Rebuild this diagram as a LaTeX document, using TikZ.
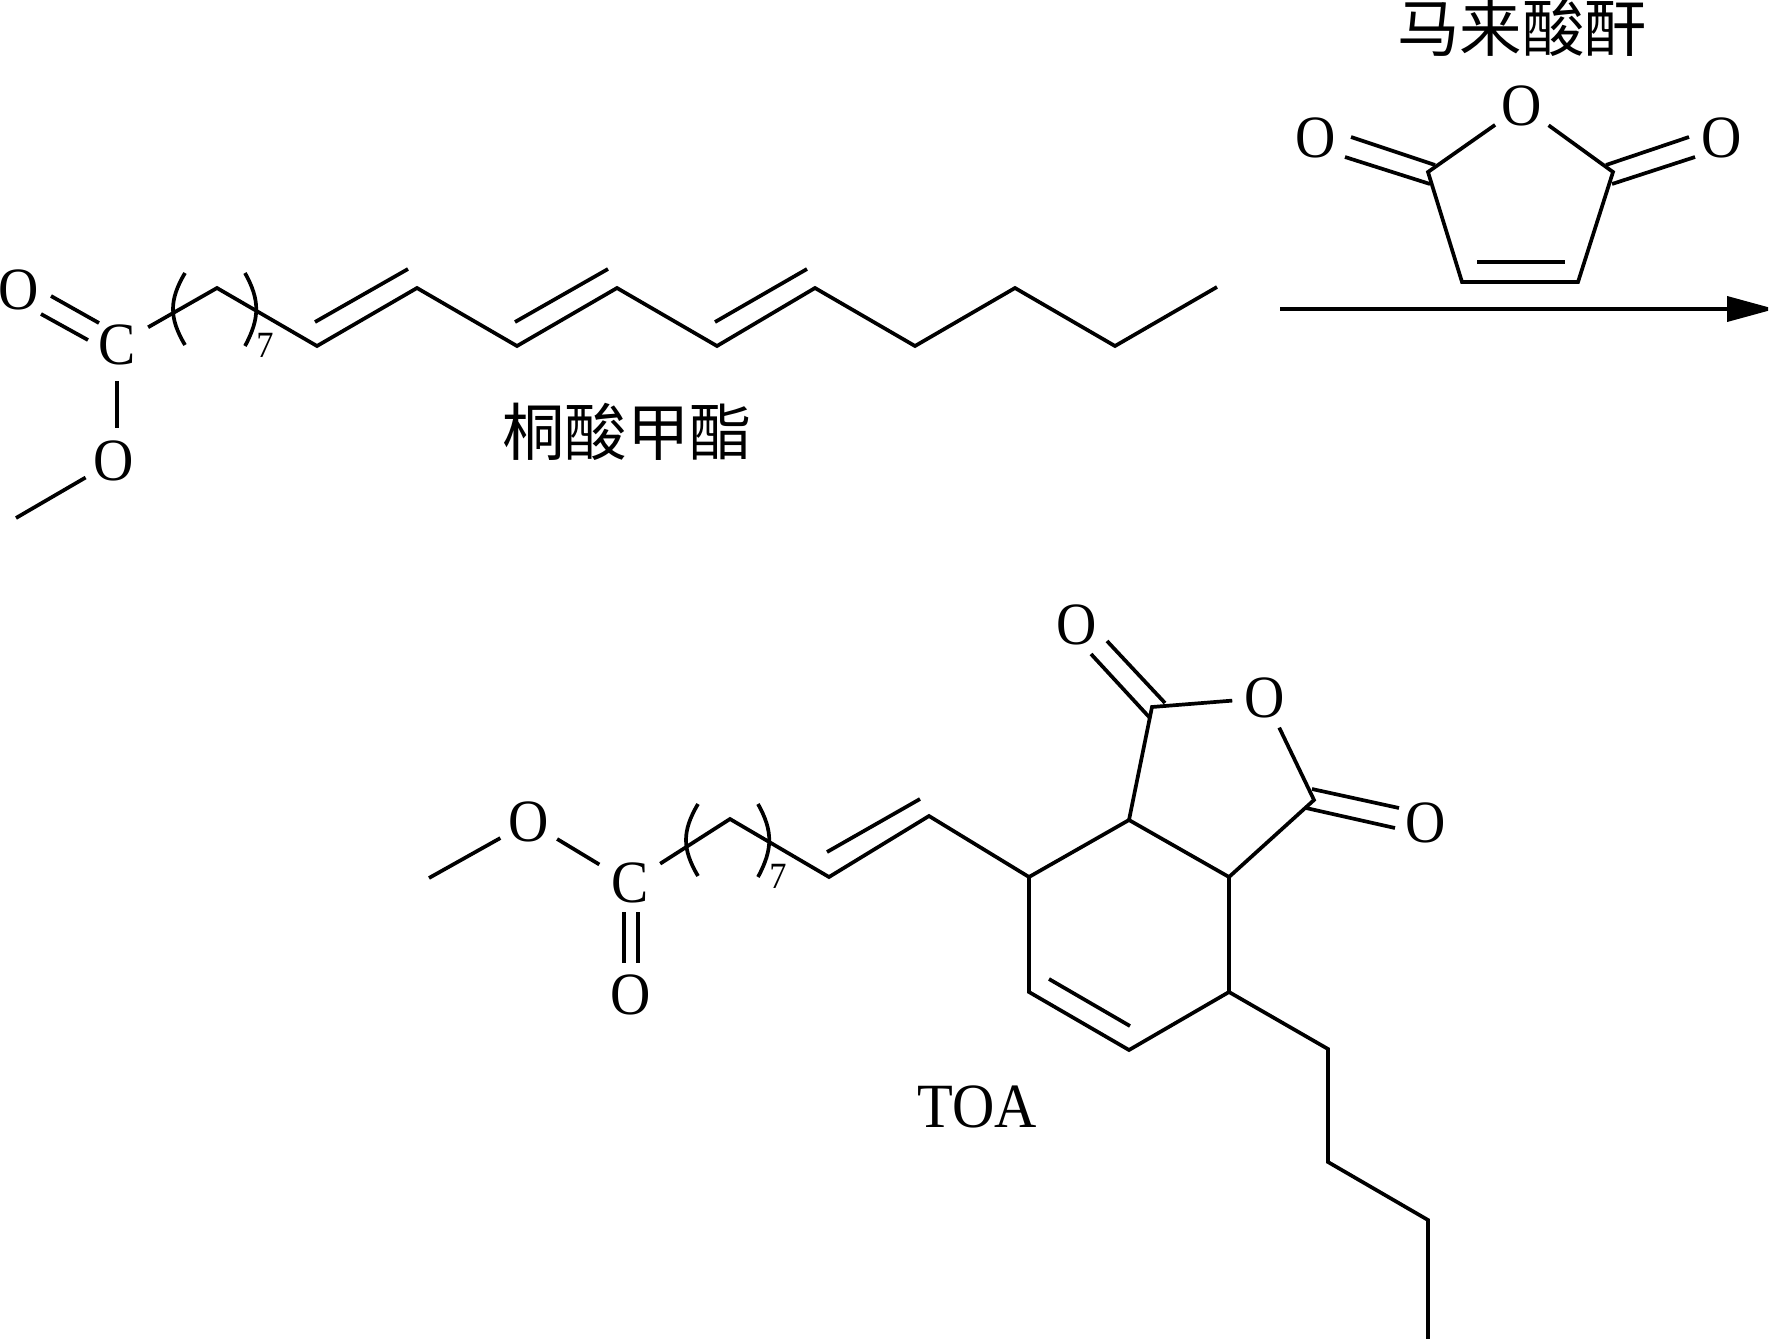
\documentclass[tikz,border=0pt]{standalone}
\usepackage{fontspec}
\setmainfont[FakeStretch=0.93]{Liberation Serif}
\newfontfamily\cjk{Noto Sans CJK SC}
\usetikzlibrary{arrows.meta}

\begin{document}
\begin{tikzpicture}[x=0.5pt, y=-0.5pt, line width=1.85pt, miter limit=3,
        atom/.style={circle, inner sep=0pt, minimum size=31pt, font=\fontsize{30}{30}\selectfont},
        carbon/.style={atom, minimum size=34pt},
        label/.style={inner sep=0pt, font=\fontsize{31.5}{32}\selectfont},
        cnlabel/.style={inner sep=0pt, font=\fontsize{31.2}{32}\selectfont\cjk},
        count/.style={inner sep=0pt, font=\fontsize{18.5}{19}\selectfont},
        rxn/.style={line width=1.85pt, -{Triangle[length=24pt, width=12.5pt]}}]
    \useasboundingbox (0,0) rectangle (1773,1339);

    \node[atom] (o1) at (19,290) {O};
    \node[carbon] (c1) at (117,345) {C};
    \node[atom] (o2) at (114,461) {O};
    \coordinate (me1) at (16,518);
    \coordinate (v1) at (217,288);
    \coordinate (v2) at (317,346);
    \coordinate (v3) at (417,288);
    \coordinate (v4) at (517,346);
    \coordinate (v5) at (617,288);
    \coordinate (v6) at (717,346);
    \coordinate (v7) at (815,288);
    \coordinate (v8) at (915,346);
    \coordinate (v9) at (1015,288);
    \coordinate (v10) at (1115,346);
    \coordinate (v11) at (1217,287);
    \coordinate (d1) at (315,322);
    \coordinate (d2) at (408,269);
    \coordinate (d3) at (515,322);
    \coordinate (d4) at (608,269);
    \coordinate (d5) at (715,322);
    \coordinate (d6) at (807,269);
    \coordinate (e1) at (51,296);
    \coordinate (e2) at (99,323);
    \coordinate (e3) at (41,314);
    \coordinate (e4) at (88,340);
    \node[cnlabel] (tung) at (627,432) {桐酸甲酯};
    \draw (e1) -- (e2);
    \draw (e3) -- (e4);
    \draw (c1.south) -- (c1.south |- o2.north);
    \draw (o2) -- (me1);
    \draw (c1) -- (v1) -- (v2) -- (v3) -- (v4) -- (v5) -- (v6) -- (v7) -- (v8) -- (v9) -- (v10) -- (v11);
    \draw (d1) -- (d2);
    \draw (d3) -- (d4);
    \draw (d5) -- (d6);

    \node[cnlabel] (maleic) at (1522,28) {马来酸酐};
    \node[atom] (o3) at (1522,106) {O};
    \node[atom] (o4) at (1316,138) {O};
    \node[atom] (o5) at (1722,138) {O};
    \coordinate (m1) at (1428,172);
    \coordinate (m2) at (1613,172);
    \coordinate (m3) at (1462,282);
    \coordinate (m4) at (1578,282);
    \coordinate (m5) at (1477,262);
    \coordinate (m6) at (1565,262);
    \coordinate (f1) at (1351,137);
    \coordinate (f2) at (1435,165);
    \coordinate (f3) at (1345,157);
    \coordinate (f4) at (1430,184);
    \coordinate (f5) at (1689,137);
    \coordinate (f6) at (1606,165);
    \coordinate (f7) at (1695,157);
    \coordinate (f8) at (1612,184);
    \draw (f1) -- (f2);
    \draw (f3) -- (f4);
    \draw (f5) -- (f6);
    \draw (f7) -- (f8);
    \draw (o3) -- (m1) -- (m3) -- (m4) -- (m2) -- (o3);
    \draw (m5) -- (m6);
    \coordinate (a1) at (1280,309);
    \coordinate (a2) at (1775,309);
    \draw[rxn] (a1) -- (a2);

    \node[atom] (o6) at (529,822) {O};
    \node[carbon] (c2) at (630,883) {C};
    \node[atom] (o7) at (631,995) {O};
    \coordinate (me2) at (429,878);
    \coordinate (w1) at (730,819);
    \coordinate (w2) at (829,877);
    \coordinate (w3) at (929,816);
    \coordinate (w4) at (827,852);
    \coordinate (w5) at (920,799);
    \coordinate (r1) at (1029,877);
    \coordinate (r2) at (1129,820);
    \coordinate (r3) at (1229,877);
    \coordinate (r4) at (1229,992);
    \coordinate (r5) at (1129,1050);
    \coordinate (r6) at (1029,992);
    \coordinate (r7) at (1049,979);
    \coordinate (r8) at (1130,1026);
    \coordinate (k1) at (1152,707);
    \coordinate (k2) at (1314,800);
    \node[atom] (o8) at (1265,698) {O};
    \node[atom] (o9) at (1077,625) {O};
    \node[atom] (o10) at (1426,823) {O};
    \coordinate (g1) at (624,912);
    \coordinate (g2) at (624,963);
    \coordinate (g3) at (638,912);
    \coordinate (g4) at (638,963);
    \coordinate (h1) at (1107,641);
    \coordinate (h2) at (1165,703);
    \coordinate (h3) at (1091,654);
    \coordinate (h4) at (1150,718);
    \coordinate (h5) at (1312,789);
    \coordinate (h6) at (1399,808);
    \coordinate (h7) at (1306,808);
    \coordinate (h8) at (1395,828);
    \coordinate (b1) at (1328,1049);
    \coordinate (b2) at (1328,1162);
    \coordinate (b3) at (1428,1220);
    \coordinate (b4) at (1428,1339);
    \node[label] (toa) at (977,1107) {TOA};
    \draw (g1) -- (g2);
    \draw (g3) -- (g4);
    \draw (h1) -- (h2);
    \draw (h3) -- (h4);
    \draw (h5) -- (h6);
    \draw (h7) -- (h8);
    \draw (me2) -- (o6) -- (c2) -- (w1) -- (w2) -- (w3) -- (r1) -- (r2) -- (r3) -- (r4) -- (r5) -- (r6) -- (r1);
    \draw (w4) -- (w5);
    \draw (r7) -- (r8);
    \draw (r2) -- (k1) -- (o8) -- (k2) -- (r3);
    \draw (r4) -- (b1) -- (b2) -- (b3) -- (b4);

    \foreach \dx/\dy/\i in {0/0/1, 513/531/2} {
        \begin{scope}[shift={(\dx,\dy)}]
            \draw (185,273) .. controls (169,300) and (169,318) .. (185,345);
            \draw (245,273) .. controls (260,300) and (260,318) .. (245,346);
            \node[count] (seven\i) at (265,345) {7};
        \end{scope}
    }
\end{tikzpicture}
\end{document}
